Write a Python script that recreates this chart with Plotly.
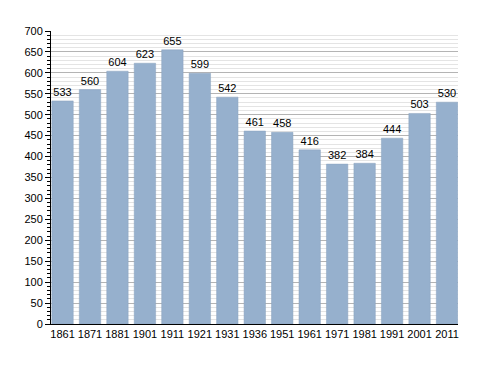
import plotly.graph_objects as go

years = ["1861", "1871", "1881", "1901", "1911", "1921", "1931", "1936",
         "1951", "1961", "1971", "1981", "1991", "2001", "2011"]
population = [533, 560, 604, 623, 655, 599, 542, 461, 458, 416, 382, 384, 444, 503, 530]

fig = go.Figure()
fig.add_trace(go.Bar(
    x=years, y=population,
    text=[str(v) for v in population],
    textposition="outside",
    textfont=dict(family="Liberation Sans, Arial", size=11, color="black"),
    cliponaxis=False,
    marker=dict(color="#96B0CD", line=dict(color="#8AA3BF", width=0.5)),
))

fig.update_layout(
    width=488, height=373,
    margin=dict(l=43, r=38, t=23, b=57),
    paper_bgcolor="white", plot_bgcolor="white",
    showlegend=False,
    bargap=0.22,
    font=dict(family="Liberation Sans, Arial", size=11, color="black"),
    xaxis=dict(
        type="category",
        range=[-0.42, len(years) - 1 + 0.4],
        showline=True, linecolor="black", linewidth=1,
        ticks="", tickfont=dict(size=11),
        showgrid=False,
    ),
    yaxis=dict(
        range=[0, 700], tick0=0, dtick=50,
        showline=True, linecolor="black", linewidth=1,
        ticks="outside", ticklen=5, tickcolor="black",
        showgrid=True, gridcolor="#B4B4B4", gridwidth=1,
        zeroline=False,
        tickfont=dict(size=11),
        minor=dict(dtick=10, ticks="outside", ticklen=3, tickcolor="black",
                   showgrid=True, gridcolor="#E4E4E4", gridwidth=1),
    ),
)

fig.write_html("out.html")
